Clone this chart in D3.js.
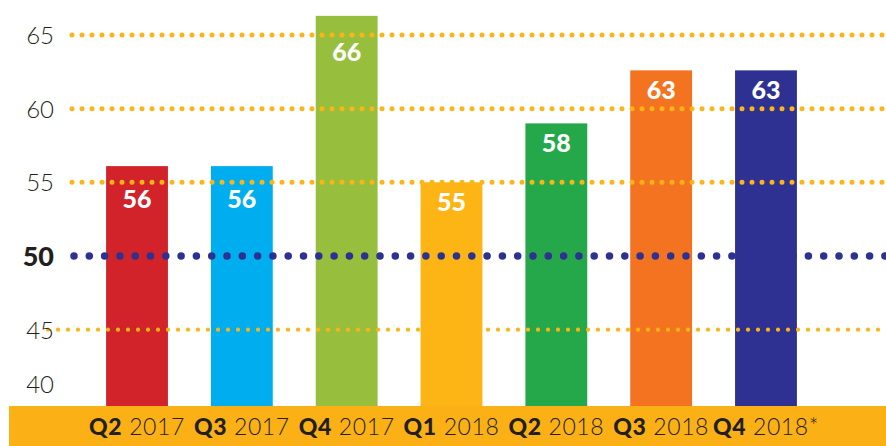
<!DOCTYPE html>
<html>
<head>
<meta charset="utf-8">
<script src="https://cdn.jsdelivr.net/npm/d3@7"></script>
<style>
  html, body { margin: 0; padding: 0; background: #fff; }
  svg { display: block; }
</style>
</head>
<body>
<svg id="chart" width="886" height="446"></svg>
<script>
// ---- data ----
const quarters = ["Q2", "Q3", "Q4", "Q1", "Q2", "Q3", "Q4"];
const years = ["2017", "2017", "2017", "2018", "2018", "2018", "2018*"];
const values = [56.1, 56.1, 66.3, 55.0, 59.0, 62.6, 62.6];
const valueLabels = ["56", "56", "66", "55", "58", "63", "63"];
const barColors = ["#D2232A", "#00AEEF", "#97BF3D", "#FDB515", "#24A84A", "#F47321", "#2E3192"];
const yTicks = [40, 45, 50, 55, 60, 65];
const threshold = 50;

// ---- layout ----
const W = 886, H = 446;
const bandTop = 406;
const svg = d3.select("#chart");
const categories = quarters.map((q, i) => q + " " + years[i]);

const x = d3.scaleBand()
  .domain(categories)
  .range([84.6, 818.4])
  .paddingInner(0.41)
  .paddingOuter(0.205);

const y = d3.scaleLinear().domain([40, 65]).range([403.3, 35]);

// bars
svg.append("g").selectAll("rect")
  .data(values)
  .join("rect")
  .attr("x", (d, i) => x(categories[i]))
  .attr("width", x.bandwidth())
  .attr("y", d => y(d))
  .attr("height", d => bandTop - y(d))
  .attr("fill", (d, i) => barColors[i]);

// value labels: placed inside the bar top, pushed below any gridline they would cross
const gridYs = yTicks.filter(t => t !== 40).map(t => y(t));
function labelBaseline(v) {
  let b = y(v) + 29;
  gridYs.forEach(g => {
    if (g > b - 21 && g < b + 3) b = g + 26;
  });
  return b;
}
svg.append("g").selectAll("text")
  .data(values)
  .join("text")
  .attr("x", (d, i) => x(categories[i]) + x.bandwidth() / 2)
  .attr("y", d => labelBaseline(d))
  .attr("text-anchor", "middle")
  .attr("font-family", "Lato, 'Noto Sans', sans-serif")
  .attr("font-weight", 900)
  .attr("font-size", 25)
  .attr("fill", "#fff")
  .text((d, i) => valueLabels[i]);

// gridlines (drawn over bars)
const grid = svg.append("g");
yTicks.filter(t => t !== 40 && t !== threshold).forEach(t => {
  const x0 = t === 45 ? 48 : 72;
  grid.append("line")
    .attr("x1", x0).attr("x2", W + 5)
    .attr("y1", y(t)).attr("y2", y(t))
    .attr("stroke", "#FDB515")
    .attr("stroke-width", t === 45 ? 4.2 : 5)
    .attr("stroke-linecap", "round")
    .attr("stroke-dasharray", "0 10");
});
grid.append("line")
  .attr("x1", 74).attr("x2", W + 5)
  .attr("y1", y(threshold)).attr("y2", y(threshold))
  .attr("stroke", "#2E3192")
  .attr("stroke-width", 7.5)
  .attr("stroke-linecap", "round")
  .attr("stroke-dasharray", "0 15.3");

// y axis
const yAxis = d3.axisLeft(y).tickValues(yTicks).tickSize(0).tickPadding(0);
const ya = svg.append("g").attr("transform", "translate(54,0)").call(yAxis);
ya.select(".domain").remove();
ya.selectAll("text")
  .attr("font-family", "Lato, 'Noto Sans', sans-serif")
  .attr("font-size", d => d === threshold ? 27 : 24)
  .attr("font-weight", d => d === threshold ? 900 : 300)
  .attr("fill", "#231F20")
  .attr("dy", d => d === 40 ? "-0.45em" : "0.36em");

// bottom band
svg.append("rect")
  .attr("x", 9).attr("y", bandTop)
  .attr("width", W - 9).attr("height", H - bandTop)
  .attr("fill", "#FBB116");

// x labels
const xl = svg.append("g").selectAll("text")
  .data(categories)
  .join("text")
  .attr("x", d => x(d) + x.bandwidth() / 2)
  .attr("y", 435)
  .attr("text-anchor", "middle")
  .attr("font-family", "Lato, 'Noto Sans', sans-serif")
  .attr("font-size", 23)
  .attr("letter-spacing", 0.6)
  .attr("fill", "#231F20");
xl.append("tspan").attr("font-weight", 900).text((d, i) => quarters[i]);
xl.append("tspan").attr("font-weight", 300).text((d, i) => " " + years[i]);
</script>
</body>
</html>
